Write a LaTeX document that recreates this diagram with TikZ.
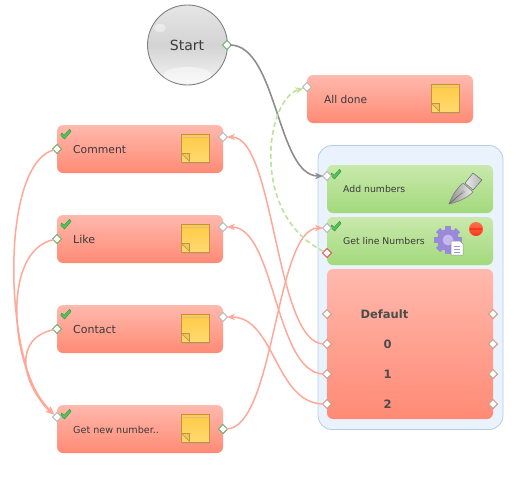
\documentclass[tikz,border=0pt]{standalone}
\usepackage{fontspec}
\setmainfont{DejaVu Sans}
\usetikzlibrary{arrows.meta}
\definecolor{txt}{HTML}{3A3A3A}
\definecolor{salT}{HTML}{FFB9AD}
\definecolor{salB}{HTML}{FF8A75}
\definecolor{grnT}{HTML}{C9E9AC}
\definecolor{grnB}{HTML}{A2D97C}
\definecolor{wire}{HTML}{FFA898}
\definecolor{contF}{HTML}{EAF3FD}
\definecolor{contD}{HTML}{B4CCE4}
\definecolor{tickF}{HTML}{55C45A}
\definecolor{tickD}{HTML}{349A3C}
\definecolor{noteT}{HTML}{FFCB45}
\definecolor{noteB}{HTML}{FFD970}
\definecolor{noteD}{HTML}{C4923C}
\definecolor{gearC}{HTML}{9A88D8}
\definecolor{gearL}{HTML}{C4B8EC}
\definecolor{portG}{HTML}{62AD62}
\definecolor{portA}{HTML}{B4B4B4}
\definecolor{portR}{HTML}{E84848}
\definecolor{portS}{HTML}{C89A84}
\definecolor{edgeG}{HTML}{BCE39A}
\definecolor{edgeA}{HTML}{8E8E8E}
\tikzset{
 x=1pt,y=-1pt,
 salbox/.style={rectangle,rounded corners=6pt,minimum width=166pt,minimum height=48pt,inner sep=0,top color=salT,bottom color=salB,draw=none,outer sep=0},
 grnbox/.style={rectangle,rounded corners=6pt,minimum width=166pt,minimum height=48pt,inner sep=0,top color=grnT,bottom color=grnB,draw=none,outer sep=0},
 lab/.style={anchor=west,text=txt,font=\fontsize{11}{13}\selectfont,inner sep=0},
 rowlab/.style={text=black!70,font=\bfseries\fontsize{11.5}{13}\selectfont,inner sep=0},
 wirel/.style={draw=wire,line width=1.5pt,shorten >=4pt,shorten <=3pt,-{Stealth[length=8pt,width=6.5pt]}},
}
\pgfdeclareshape{diamond port}{
 \inheritsavedanchors[from=rectangle]
 \inheritanchor[from=rectangle]{center}
 \anchor{center}{\pgfpointorigin}
 \anchorborder{\pgfpointorigin}
 \backgroundpath{
  \pgfpathmoveto{\pgfpoint{-4.6pt}{0pt}}
  \pgfpathlineto{\pgfpoint{0pt}{4.6pt}}
  \pgfpathlineto{\pgfpoint{4.6pt}{0pt}}
  \pgfpathlineto{\pgfpoint{0pt}{-4.6pt}}
  \pgfpathclose
 }
}
\tikzset{pt/.style={shape=diamond port,inner sep=0,minimum size=0,fill=white,draw=#1,line width=.9pt,outer sep=0}}
\newcommand{\tick}[2]{%
 \fill[tickF,draw=tickD,line width=.5pt,line join=round]
  (#1-4.5,#2-1) -- (#1-1.8,#2+1.2) -- (#1+3.6,#2-4.6) -- (#1+5,#2-2.6) -- (#1-1.4,#2+5) -- (#1-5.2,#2+1.2) -- cycle;}
\newcommand{\sticky}[2]{%
 \begin{scope}[shift={(#1,#2)}]
  \fill[black!40,opacity=.3] (.5,.5) rectangle (29,30);
  \shade[top color=noteT,bottom color=noteB,draw=noteD,line width=.9pt] (0,0) rectangle (28,28);
  \draw[noteD!60,line width=.6pt] (.5,3.5) -- (27.5,3.5);
  \fill[noteB!70!noteD,draw=noteD,line width=.6pt,line join=round] (.5,19.5) -- (8.5,19.5) -- (8.5,27.5) -- cycle;
 \end{scope}}
\begin{document}
\begin{tikzpicture}
\useasboundingbox (0,0) rectangle (516,480);
% container
\draw[draw=contD,fill=contF,line width=.8pt,rounded corners=14pt] (318,145.5) rectangle (503,429.5);
% start
\node[circle,minimum size=80pt,inner sep=0,draw=black!50,line width=.9pt,top color=black!10,bottom color=black!4,middle color=black!17] (start) at (187.5,45) {};
\fill[white,opacity=.45] (160,28) ellipse (6 and 4);
\fill[white,opacity=.45] (187.5,75) ellipse (24 and 8);
\node[text=txt,font=\fontsize{14}{16}\selectfont,inner sep=0] (startlab) at (187,45) {Start};
% boxes
\node[salbox] (alldone) at (390,99) {};
\node[salbox] (comment) at (140,149) {};
\node[salbox] (like) at (140,239) {};
\node[salbox] (contact) at (140,329) {};
\node[salbox] (getnew) at (140,429) {};
\node[grnbox] (addnum) at (410,189) {};
\node[grnbox] (getline) at (410,241) {};
\node[salbox,minimum height=150pt] (sw) at (410,344) {};
% labels
\node[lab] at (324,99.5) {\fontsize{10.6}{12}\selectfont All done};
\node[lab] at (73,149.5) {\fontsize{10.8}{12}\selectfont Comment};
\node[lab] at (73,239.5) {Like};
\node[lab] at (73,329.5) {Contact};
\node[lab] at (73,429.5) {\fontsize{9.6}{12}\selectfont Get new number..};
\node[lab] at (343,189.5) {\fontsize{9.3}{12}\selectfont Add numbers};
\node[lab] at (343,241.5) {\fontsize{9.3}{12}\selectfont Get line Numbers};
\node[rowlab] at (384.5,314) {Default};
\node[rowlab] at (387.5,344) {0};
\node[rowlab] at (387.5,374) {1};
\node[rowlab] at (387.5,404) {2};
% icons
\sticky{181}{134}\sticky{181}{224}\sticky{181}{314}\sticky{181}{414}\sticky{431}{84}
% pen nib
\shade[left color=black!45,right color=black!6,draw=black!50,line width=.6pt,line join=round]
  (449,204) .. controls (452,196) and (456,189) .. (463,183) -- (473,192) .. controls (466,199) and (457,202) .. (449,204) -- cycle;
\shade[left color=black!8,right color=black!30,draw=black!55,line width=.6pt,line join=round]
  (465,183) -- (473,173) -- (482,180) -- (473,190) -- cycle;
\draw[black!60,line width=.6pt] (449,204) -- (463,192);
\fill[white,draw=black!55,line width=.4pt] (463,192) circle (1.3);
% gear
\begin{scope}[shift={(448,240)}]
 \foreach \a in {0,45,...,315}{\fill[gearC,rotate=\a] (-3,-14) rectangle (3,-8);}
 \fill[gearC] (0,0) circle (11);
 \fill[gearL] (0,0) circle (5.5);
\end{scope}
\draw[black!45,fill=white,line width=.5pt,line join=round] (451,241) -- (460,241) -- (463,244) -- (463,255) -- (451,255) -- cycle;
\foreach \yy in {246,249,252}{\draw[black!45!blue!40,line width=.7pt] (454,\yy) -- (460,\yy);}
% stop
\shade[top color=red!60!orange!70,bottom color=red!75!orange!90] (476,229) circle (7);
\fill[red!85!black,opacity=.3] (470,228) rectangle (482,230);
% ticks
\tick{66}{134}\tick{66}{224}\tick{66}{314}\tick{66}{414}\tick{336}{174}\tick{336}{226}
% ports
\node[pt=portG] (pStart) at (227,45) {};
\node[pt=portA] (pDoneIn) at (307,87) {};
\node[pt=portG] (cL) at (57,149) {};
\node[pt=portA] (cR) at (223,137) {};
\node[pt=portG] (lL) at (57,239) {};
\node[pt=portA] (lR) at (223,227) {};
\node[pt=portG] (kL) at (57,329) {};
\node[pt=portA] (kR) at (223,317) {};
\node[pt=portA] (gL) at (57,417) {};
\node[pt=portG] (gR) at (223,429) {};
\node[pt=portA] (aL) at (327,176) {};
\node[pt=portA] (eL) at (327,228) {};
\node[pt=portR] (eR) at (327,253) {};
\foreach \n/\yy in {d/314,z/344,o/374,t/404}{
 \node[pt=portS] (\n L) at (327,\yy) {};
 \node[pt=portS] (\n R) at (493,\yy) {};
}
% connectors
\draw[wirel] (cL) .. controls (-3,165) and (5,375) .. (gL);
\draw[wirel] (lL) .. controls (0,250) and (10,372) .. (gL);
\draw[wirel] (kL) .. controls (12,338) and (22,385) .. (gL);
\draw[wirel] (gR) .. controls (275,429) and (275,228) .. (eL);
\draw[wirel] (zL) .. controls (275,344) and (275,137) .. (cR);
\draw[wirel] (oL) .. controls (275,374) and (275,227) .. (lR);
\draw[wirel] (tL) .. controls (275,404) and (275,317) .. (kR);
\draw[draw=edgeA,line width=1.6pt,shorten >=4pt,shorten <=3pt,-{Stealth[length=8pt,width=6.5pt]}] (pStart) .. controls (277,45) and (277,176) .. (aL);
\draw[draw=edgeG,line width=1.6pt,dash pattern=on 5pt off 3pt,shorten >=4pt,shorten <=4pt,-{Stealth[length=8pt,width=6.5pt]}] (eR) .. controls (250,215) and (265,100) .. (pDoneIn);
\end{tikzpicture}
\end{document}
